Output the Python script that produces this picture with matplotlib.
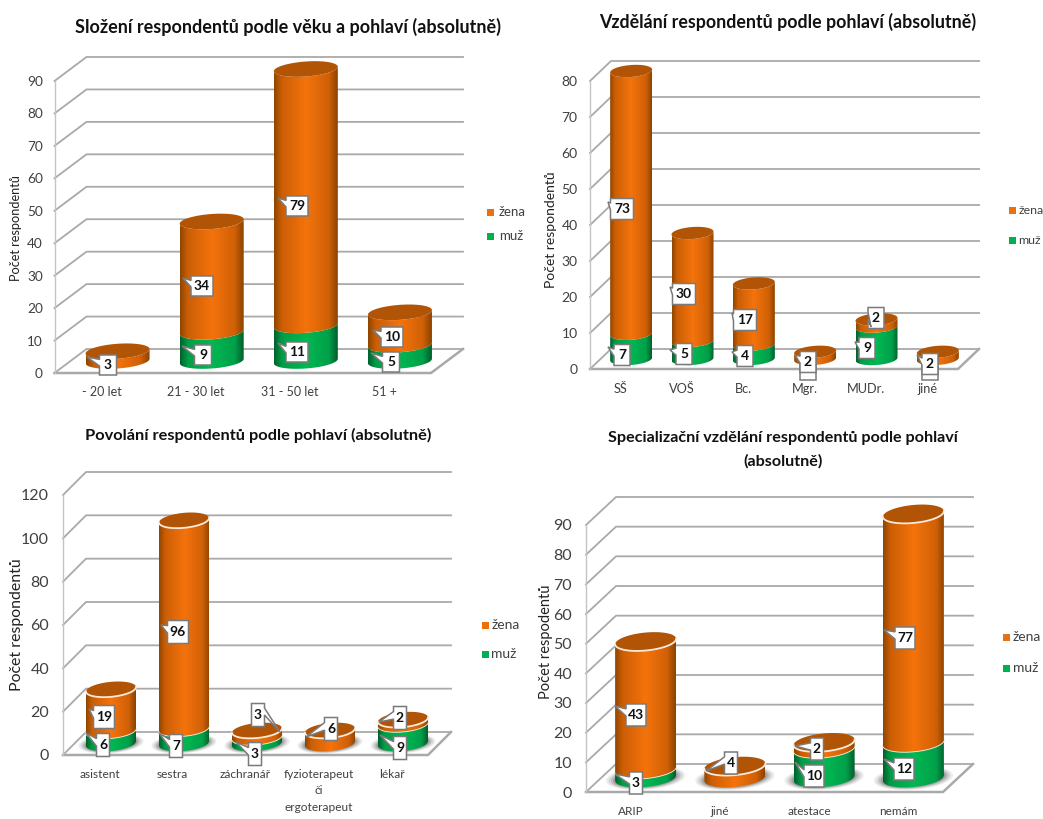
import matplotlib
matplotlib.use("Agg")
import matplotlib.pyplot as plt
import numpy as np
from matplotlib.colors import LinearSegmentedColormap
from matplotlib.patches import Polygon, Rectangle

plt.rcParams['font.family'] = ['Lato', 'DejaVu Sans']

W, H = 1043, 819

# data
age_labels = ["- 20 let", "21 - 30 let", "31 - 50 let", "51 +"]
age_muz = [0, 9, 11, 5]
age_zena = [3, 34, 79, 10]
age_ticks = [0, 10, 20, 30, 40, 50, 60, 70, 80, 90]

edu_labels = ["SŠ", "VOŠ", "Bc.", "Mgr.", "MUDr.", "jiné"]
edu_muz = [7, 5, 4, 0, 9, 0]
edu_zena = [73, 30, 17, 2, 2, 2]
edu_ticks = [0, 10, 20, 30, 40, 50, 60, 70, 80]

job_labels = ["asistent", "sestra", "záchranář", "fyzioterapeut\nči\nergoterapeut", "lékař"]
job_muz = [6, 7, 3, 0, 9]
job_zena = [19, 96, 3, 6, 2]
job_ticks = [0, 20, 40, 60, 80, 100, 120]

spec_labels = ["ARIP", "jiné", "atestace", "nemám"]
spec_muz = [3, 0, 10, 12]
spec_zena = [43, 4, 2, 77]
spec_ticks = [0, 10, 20, 30, 40, 50, 60, 70, 80, 90]

legend_names = ["žena", "muž"]

orange_map = LinearSegmentedColormap.from_list(
    "orange", [(0, "#8F4600"), (0.12, "#CC5E05"), (0.5, "#F4730C"), (0.86, "#D06006"), (1, "#8A4300")])
green_map = LinearSegmentedColormap.from_list(
    "green", [(0, "#00602C"), (0.12, "#009E47"), (0.5, "#00B852"), (0.86, "#00A04A"), (1, "#005E2B")])
cap_color = "#B25405"
grid_color = "#A9A9A9"
text_color = "#404040"

# layout of the four panels, all in pixels from the top left of the figure
panels = [
    dict(labels=age_labels, muz=age_muz, zena=age_zena, ticks=age_ticks,
         left=54.5, right=431, y0=373, ytop=81, dx=32, dy=24, bar=64, cap=7.5, tilt=0.07,
         bevel=False, tick_pad=8.3, xpad=9, tick_size=9.8, x_size=9.0,
         title=["Složení respondentů podle věku a pohlaví (absolutně)"], title_xy=(288, 27), title_size=13,
         ylabel="Počet respondentů", ylabel_xy=(16, 228), ylabel_size=9.2,
         legend_xy=[(490, 212), (490, 236)], legend_size=9.5, legend_gap=9,
         box=(17, 22, 20), blank=[],
         zena_pos=[(108, 365), (202, 286), (297, 206), (392, 337)],
         zena_tip=[(87, 357), (183, 278), (278, 198), (373, 330)],
         muz_pos=[None, (203, 355), (297, 352), (391, 362)],
         muz_tip=[None, (182, 346), (278, 343), (371, 353)]),
    dict(labels=edu_labels, muz=edu_muz, zena=edu_zena, ticks=edu_ticks,
         left=590, right=958, y0=369, ytop=81, dx=21, dy=20, bar=42, cap=6, tilt=0.07,
         bevel=False, tick_pad=9, xpad=10, tick_size=10, x_size=9.2,
         title=["Vzdělání respondentů podle pohlaví (absolutně)"], title_xy=(788, 22), title_size=12.8,
         ylabel="Počet respondentů", ylabel_xy=(551, 230), ylabel_size=10,
         legend_xy=[(1012, 210), (1012, 240)], legend_size=8.9, legend_gap=6.5,
         box=(16, 23, 21), blank=[(808, 369), (930, 369)],
         zena_pos=[(622, 209), (684, 294), (745, 320), (808, 362), (876, 318), (930, 364)],
         zena_tip=[(608, 202), (670, 287), (732, 313), (795, 355), (871, 327), (917, 355)],
         muz_pos=[(622, 355), (684, 354), (745, 356), None, (867, 348), None],
         muz_tip=[(608, 347), (670, 350), (732, 352), None, (855, 342), None]),
    dict(labels=job_labels, muz=job_muz, zena=job_zena, ticks=job_ticks,
         left=63, right=428, y0=755, ytop=495, dx=23, dy=23, bar=50, cap=7.5, tilt=0.09,
         bevel=True, tick_pad=10, xpad=10, tick_size=11.5, x_size=8.6,
         title=["Povolání respondentů podle pohlaví (absolutně)"], title_xy=(258, 435), title_size=11.8,
         ylabel="Počet respondentů", ylabel_xy=(17, 625), ylabel_size=11.4,
         legend_xy=[(485, 625), (485, 654)], legend_size=10, legend_gap=6.5,
         box=(13, 21, 23), blank=[],
         zena_pos=[(104, 717), (178, 632), (258, 715), (331, 729), (400, 718)],
         zena_tip=[(89, 709), (161, 625), (280, 732), (306, 737), (379, 722)],
         muz_pos=[(103, 745), (176, 746), (255, 754), None, (400, 748)],
         muz_tip=[(86, 733), (159, 733), (236, 742), None, (380, 735)]),
    dict(labels=spec_labels, muz=spec_muz, zena=spec_zena, ticks=spec_ticks,
         left=586, right=943, y0=792, ytop=525, dx=30, dy=28, bar=61, cap=9, tilt=0.09,
         bevel=True, tick_pad=10, xpad=10, tick_size=11.5, x_size=8.5,
         title=["Specializační vzdělání respondentů podle pohlaví", "(absolutně)"],
         title_xy=(783, 438), title_size=11.6,
         ylabel="Počet respodentů", ylabel_xy=(546, 642), ylabel_size=10.5,
         legend_xy=[(1006, 637), (1006, 668)], legend_size=10, legend_gap=7,
         box=(13, 20, 22), blank=[],
         zena_pos=[(636, 715), (731, 763), (817, 749), (905, 638)],
         zena_tip=[(615, 706), (706, 771), (795, 746), (884, 630)],
         muz_pos=[(636, 783), None, (814, 776), (904, 769)],
         muz_tip=[(615, 774), None, (795, 762), (884, 759)]),
]


def draw_walls(ax, n, ymax, ticks, ox, oy):
    # floor, left wall and back wall
    for t in ticks:
        ax.plot([0, ox, n + ox], [t, t + oy, t + oy], color=grid_color, lw=1.3,
                clip_on=False, zorder=1, solid_joinstyle="miter")
    ax.plot([0, n, n + ox], [0, 0, oy], color=grid_color, lw=1.8, clip_on=False, zorder=1)
    ax.plot([0, 0], [0, ymax], color="#C4C4C4", lw=1, clip_on=False, zorder=1)


def draw_segment(ax, fig, cx, low, high, a, b, slope, cmap, order, top, bevel):
    # one stacked cylinder piece: gradient side plus, for the top piece, the lid
    t = np.linspace(np.pi, 2 * np.pi, 50)
    xs = cx + a * np.cos(t)
    lower = low + b * np.sin(t) + slope * a * np.cos(t)
    upper = high + b * np.sin(t) + slope * a * np.cos(t)
    verts = np.vstack([np.column_stack([xs, lower]), np.column_stack([xs[::-1], upper[::-1]])])
    clip = Polygon(verts, transform=ax.transData)
    grad = np.linspace(0, 1, 200).reshape(1, -1)
    im = ax.imshow(grad, cmap=cmap, extent=[cx - a, cx + a, low - b * 2, high + b * 2],
                   aspect="auto", zorder=order, interpolation="bilinear")
    im.set_clip_path(clip)
    im.set_clip_box(fig.bbox)
    if bevel:
        ax.plot(xs, upper, color="#FBE9DA", lw=1.3, clip_on=False, zorder=order + 0.2)
    if top:
        full = np.linspace(0, 2 * np.pi, 100)
        lid = np.column_stack([cx + a * np.cos(full),
                               high + b * np.sin(full) + slope * a * np.cos(full)])
        ax.add_patch(Polygon(lid, closed=True, fc=cap_color, ec="none", clip_on=False, zorder=order + 0.1))


def draw_shadow(ax, cx, base, a, b, slope):
    full = np.linspace(0, 2 * np.pi, 80)
    for k, alpha in [(1.30, 0.10), (1.22, 0.14), (1.14, 0.20), (1.07, 0.28)]:
        pts = np.column_stack([cx + k * a * np.cos(full),
                               base + k * b * np.sin(full) + slope * a * np.cos(full)])
        ax.add_patch(Polygon(pts, closed=True, fc="#555555", ec="none", alpha=alpha,
                             clip_on=False, zorder=2))


def callout(ov, pos, tip, value, box, order):
    # white data label with a small pointer towards its segment
    w = box[1] if value >= 10 else box[0]
    h = box[2]
    x, y = pos
    l, r, t, b = x - w / 2, x + w / 2, y - h / 2, y + h / 2
    if tip[0] >= r:
        pts = [(l, t), (r, t), (r, t + h * 0.2), tip, (r, t + h * 0.5), (r, b), (l, b)]
    elif tip[1] >= b:
        pts = [(l, t), (r, t), (r, b), (x + w * 0.3, b), tip, (x - w * 0.1, b), (l, b)]
    else:
        pts = [(l, t), (r, t), (r, b), (l, b), (l, t + h * 0.55), tip, (l, t + h * 0.22)]
    ov.add_patch(Polygon(pts, closed=True, fc="white", ec="#7A7A7A", lw=1.1, zorder=order))
    ov.text(x, y, str(value), ha="center", va="center", fontsize=10, fontweight="bold",
            color="#111111", zorder=order + 1)


fig = plt.figure(figsize=(W / 100, H / 100), dpi=100, facecolor="white")

for p in panels:
    n = len(p["labels"])
    ymax = p["ticks"][-1]
    ax = fig.add_axes([p["left"] / W, (H - p["y0"]) / H,
                       (p["right"] - p["left"]) / W, (p["y0"] - p["ytop"]) / H])
    px_x = (p["right"] - p["left"]) / n
    px_y = (p["y0"] - p["ytop"]) / ymax
    ox, oy = p["dx"] / px_x, p["dy"] / px_y
    a = p["bar"] / 2 / px_x
    b = p["cap"] / px_y
    slope = p["tilt"] * px_x / px_y

    draw_walls(ax, n, ymax, p["ticks"], ox, oy)

    for i in range(n):
        cx = i + 0.5 + ox / 2
        base = oy / 2
        if p["bevel"]:
            draw_shadow(ax, cx, base, a, b, slope)
        m, z = p["muz"][i], p["zena"][i]
        if m:
            draw_segment(ax, fig, cx, base, base + m, a, b, slope, green_map, 3 + i, False, p["bevel"])
        draw_segment(ax, fig, cx, base + m, base + m + z, a, b, slope, orange_map, 3.5 + i, True, p["bevel"])

    ax.set_xlim(0, n)
    ax.set_ylim(0, ymax)
    ax.set_xticks(np.arange(n) + 0.5)
    ax.set_xticklabels(p["labels"], fontsize=p["x_size"], color=text_color, linespacing=1.6)
    ax.set_yticks(p["ticks"])
    ax.set_yticklabels([str(t) for t in p["ticks"]], fontsize=p["tick_size"], color=text_color)
    ax.tick_params(axis="x", length=0, pad=p["xpad"])
    ax.tick_params(axis="y", length=0, pad=p["tick_pad"])
    for s in ax.spines.values():
        s.set_visible(False)
    ax.patch.set_visible(False)

# titles, legends and data labels go on a pixel overlay above all panels
ov = fig.add_axes([0, 0, 1, 1])
ov.set_xlim(0, W)
ov.set_ylim(H, 0)
ov.axis("off")

for p in panels:
    tx, ty = p["title_xy"]
    for k, line in enumerate(p["title"]):
        ov.text(tx, ty + k * 23, line, ha="center", va="center", fontsize=p["title_size"],
                fontweight="bold", color="#111111")
    ov.text(*p["ylabel_xy"], p["ylabel"], rotation=90, ha="center", va="center",
            fontsize=p["ylabel_size"], color="#222222")
    for (lx, ly), name, col in zip(p["legend_xy"], legend_names, ["#E9700F", "#00B050"]):
        ov.add_patch(Rectangle((lx - 3.5, ly - 3.5), 7, 7, fc=col, ec="none"))
        ov.text(lx + p["legend_gap"], ly, name, ha="left", va="center", fontsize=p["legend_size"], color=text_color)
    # empty boxes left behind where a group has no men
    for bx, by in p["blank"]:
        w, h = p["box"][0], p["box"][2]
        ov.add_patch(Rectangle((bx - w / 2, by - h / 2), w, h, fc="white", ec="#7A7A7A", lw=1.1, zorder=9))
    order = 10
    for vals, pos, tips in [(p["muz"], p["muz_pos"], p["muz_tip"]),
                            (p["zena"], p["zena_pos"], p["zena_tip"])]:
        for v, xy, tip in zip(vals, pos, tips):
            if xy is None:
                continue
            callout(ov, xy, tip, v, p["box"], order)
            order += 2

fig.savefig("out.png", dpi=100, facecolor="white")
